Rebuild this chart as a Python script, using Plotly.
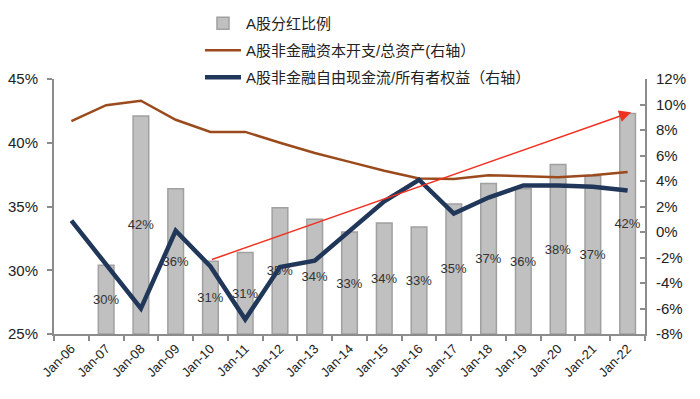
import plotly.graph_objects as go

categories = ["Jan-06", "Jan-07", "Jan-08", "Jan-09", "Jan-10", "Jan-11", "Jan-12", "Jan-13",
              "Jan-14", "Jan-15", "Jan-16", "Jan-17", "Jan-18", "Jan-19", "Jan-20", "Jan-21", "Jan-22"]
dividend_ratio = [None, 30.4, 42.1, 36.4, 30.7, 31.4, 34.9, 34.0, 33.0, 33.7, 33.4, 35.2, 36.8, 36.4, 38.3, 37.4, 42.3]
capex_to_assets = [8.7, 9.95, 10.3, 8.8, 7.85, 7.85, 7.0, 6.2, 5.5, 4.8, 4.2, 4.15, 4.45, 4.35, 4.3, 4.45, 4.7]
fcf_to_equity = [0.9, -2.5, -6.0, 0.1, -2.7, -6.85, -2.75, -2.25, 0.1, 2.4, 4.1, 1.45, 2.7, 3.65, 3.65, 3.55, 3.25]
left_ticks = [25, 30, 35, 40, 45]
right_ticks = [-8, -6, -4, -2, 0, 2, 4, 6, 8, 10, 12]
arrow_start = ("Jan-10", -2.2)
arrow_end_index, arrow_end_value = 16.1, 9.4

LEFT_BASE = 25
FONT = "Liberation Sans, Arial, Noto Sans CJK SC, sans-serif"

bar_heights = [None if v is None else v - LEFT_BASE for v in dividend_ratio]
bar_text = ["" if v is None else f"{round(v)}%" for v in dividend_ratio]

fig = go.Figure()
fig.add_trace(go.Bar(
    x=categories, y=bar_heights, base=LEFT_BASE, name="A股分红比例",
    marker=dict(color="#c0c0c0", line=dict(color="#a0a0a0", width=1.5)),
    width=0.45, text=bar_text, textposition="inside", insidetextanchor="middle",
    textangle=0, constraintext="none",
    textfont=dict(size=13, color="#333333", family=FONT), legend="legend",
    cliponaxis=False,
))
fig.add_trace(go.Scatter(
    x=categories, y=capex_to_assets, name="A股非金融资本开支/总资产(右轴）", yaxis="y2",
    mode="lines", line=dict(color="#9a4a1c", width=2.5), legend="legend2",
))
fig.add_trace(go.Scatter(
    x=categories, y=fcf_to_equity, name="A股非金融自由现金流/所有者权益（右轴）", yaxis="y2",
    mode="lines", line=dict(color="#213759", width=4.5), legend="legend3",
))

fig.add_annotation(
    x=arrow_end_index, y=arrow_end_value, xref="x", yref="y2",
    ax=categories.index(arrow_start[0]), ay=arrow_start[1], axref="x", ayref="y2",
    showarrow=True, arrowhead=2, arrowsize=1.6, arrowwidth=1.5, arrowcolor="#f03020", text="",
)

legend_style = dict(x=0.247, xanchor="left", yanchor="top", bgcolor="rgba(0,0,0,0)",
                    font=dict(size=15, family=FONT, color="#222222"), itemwidth=36)

fig.update_layout(
    width=700, height=399,
    margin=dict(l=54, r=55, t=79, b=65, autoexpand=False),
    paper_bgcolor="white", plot_bgcolor="white",
    font=dict(family=FONT, color="#222222", size=14),
    showlegend=True,
    uniformtext=dict(minsize=13, mode="show"),
    legend=dict(y=1.282, **legend_style),
    legend2=dict(y=1.176, **legend_style),
    legend3=dict(y=1.071, **legend_style),
    bargap=0.55,
    xaxis=dict(type="category", showline=True, linecolor="#8c8c8c", linewidth=2,
               ticks="outside", ticklen=5, tickcolor="#8c8c8c", tickwidth=2, tickson="boundaries",
               tickangle=-45, tickfont=dict(size=13, family=FONT, color="#222222"),
               showgrid=False, range=[-0.5, 16.5], automargin=False),
    yaxis=dict(range=[25, 45], tickvals=left_ticks, ticktext=[f"{t}%" for t in left_ticks],
               showline=True, linecolor="#8c8c8c", linewidth=2, ticks="outside", ticklen=5,
               tickcolor="#8c8c8c", tickwidth=2, showgrid=False, zeroline=False,
               ticklabelstandoff=6, automargin=False,
               tickfont=dict(size=15, family=FONT, color="#222222")),
    yaxis2=dict(range=[-8, 12], overlaying="y", side="right", tickvals=right_ticks,
                ticktext=[f"{t}%" for t in right_ticks], showline=True, linecolor="#8c8c8c",
                linewidth=2, ticks="inside", ticklen=5, tickcolor="#8c8c8c", tickwidth=2,
                showgrid=False, zeroline=False, ticklabelstandoff=6, automargin=False,
                tickfont=dict(size=15, family=FONT, color="#222222")),
)

fig.write_html("out.html", config={"displayModeBar": False},
               post_script="document.body.style.margin='0';document.body.style.overflow='hidden';")
